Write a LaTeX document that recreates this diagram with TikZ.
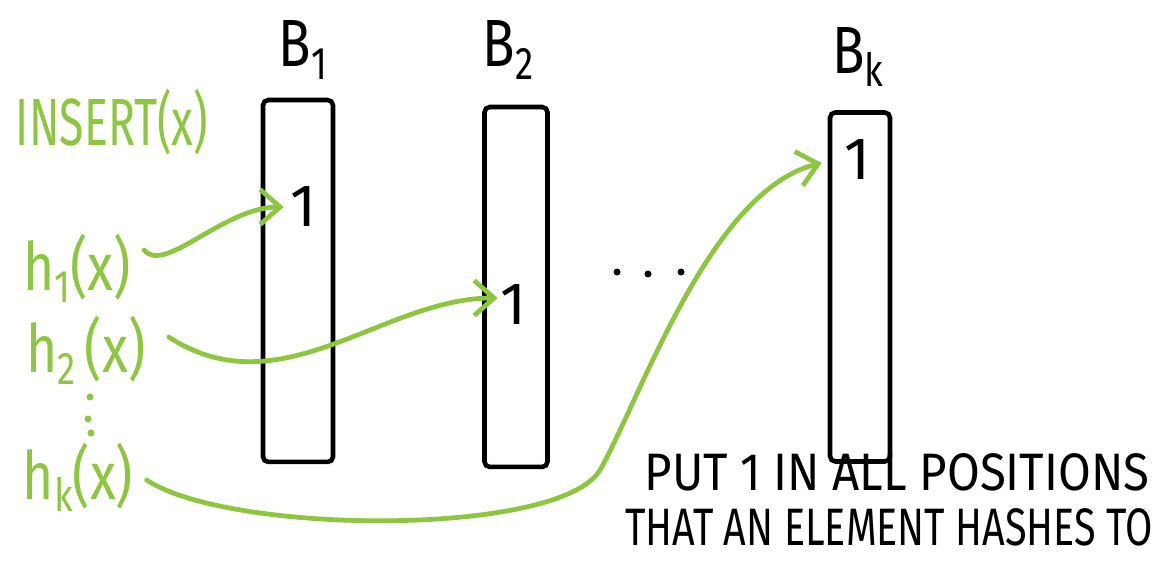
\documentclass[tikz,border=0pt]{standalone}
\usepackage{fontspec}
\setmainfont{Fira Sans}
\usetikzlibrary{arrows.meta}
\definecolor{pen}{RGB}{141,198,63}
\newcommand{\sq}[2]{\scalebox{#1}[1]{#2}}
\newcommand{\lowsub}[1]{\raisebox{-0.18em}{\fontsize{26}{26}\selectfont #1}}
\begin{document}
\begin{tikzpicture}[x=0.02cm,y=-0.02cm,
  bucket/.style={draw=black, line width=2.6pt, rounded corners=3pt, inner sep=0pt},
  glabel/.style={text=pen, inner sep=0pt, font=\fontsize{38}{40}\selectfont},
  blabel/.style={inner sep=0pt, font=\fontsize{38}{40}\selectfont},
  onelabel/.style={inner sep=0pt, font=\fontsize{34}{40}\selectfont},
  note/.style={inner sep=0pt, text height=0.62cm, text depth=0pt, font=\fontsize{30}{32}\selectfont},
  garrow/.style={draw=pen, line width=2.7pt, line cap=round,
    -{Straight Barb[length=4mm,width=7mm]}},
  ]
\useasboundingbox (0,0) rectangle (1165,563);

% buckets
\node[bucket, minimum width=1.4cm, minimum height=7.24cm] (b1) at (298,281) {};
\node[bucket, minimum width=1.26cm, minimum height=7.2cm] (b2) at (516,287) {};
\node[bucket, minimum width=1.2cm, minimum height=6.98cm] (bk) at (860,287) {};

% bucket labels
\node[blabel] (lb1) at (303,50) {\sq{0.8}{B\lowsub{1}}};
\node[blabel] (lb2) at (508,50) {\sq{0.8}{B\lowsub{2}}};
\node[blabel] (lbk) at (858,57) {\sq{0.8}{B\lowsub{k}}};

% ones
\node[onelabel] (one1) at (303,207) {1};
\node[onelabel] (one2) at (513,305) {1};
\node[onelabel] (onek) at (857,160) {1};

% green labels
\node[glabel] (ins) at (112,122) {\sq{0.67}{INSERT(x)}};
\node[glabel] (h1) at (77,268) {\sq{0.8}{h\lowsub{1}(x)}};
\node[glabel] (h2) at (86,350) {\sq{0.8}{h\lowsub{2}\,(x)}};
\node[glabel] (hk) at (78,477) {\sq{0.8}{h\lowsub{k}(x)}};

% vertical dots (green)
\fill[pen] (90,397) circle (3.5) (88,419) circle (3.5) (91,433) circle (3.5);
% horizontal dots (black)
\fill (617,272) circle (3.5) (648,274) circle (3.5) (681,272) circle (3.5);

% arrows
\draw[garrow] ([shift={(13,-18)}]h1.east) .. controls +(20,25) and +(-60,0) .. ([xshift=-0.12cm]one1.west);
\draw[garrow] ([shift={(23,-13)}]h2.east) .. controls +(112,73) and +(-115,0) .. ([shift={(-2,-7)}]one2.west);
\draw[garrow] ([shift={(13,3)}]hk.east) .. controls (230,535) and (560,537) .. (600,470)
   .. controls (640,400) and (710,190) .. ([shift={(-22,3)}]onek.west);

% note
\node[note] (n1) at (897,475) {\sq{0.9}{PUT 1 IN ALL POSITIONS}};
\node[note] (n2) at (889,530) {\sq{0.75}{THAT AN ELEMENT HASHES TO}};
\end{tikzpicture}
\end{document}
